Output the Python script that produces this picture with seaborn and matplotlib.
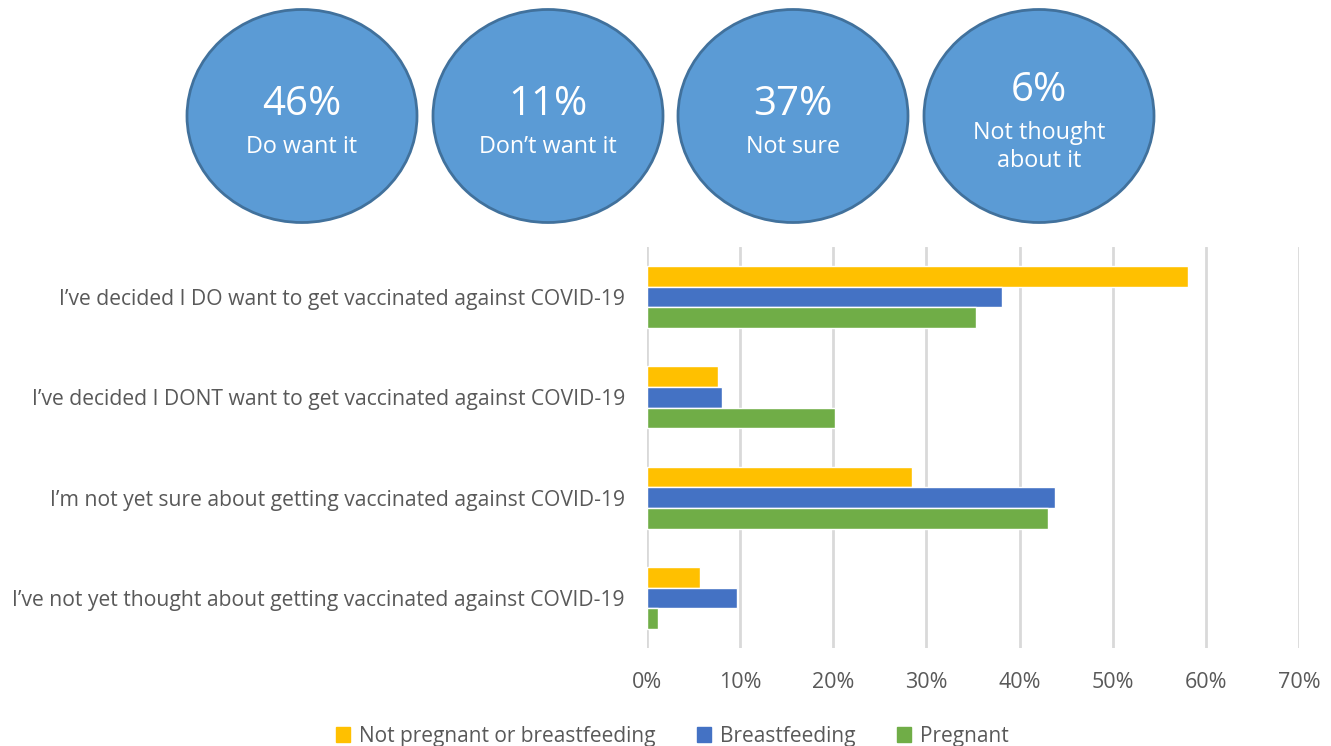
import pandas as pd
import numpy as np
import matplotlib.pyplot as plt
import seaborn as sns
from matplotlib.patches import Ellipse

# Survey answers (y categories)
questions = [
    "I’ve decided I DO want to get vaccinated against COVID-19",
    "I’ve decided I DONT want to get vaccinated against COVID-19",
    "I’m not yet sure about getting vaccinated against COVID-19",
    "I’ve not yet thought about getting vaccinated against COVID-19",
]
groups = ["Not pregnant or breastfeeding", "Breastfeeding", "Pregnant"]

# Share of respondents (%) per group
not_pregnant = [58.1, 7.6, 28.4, 5.7]
breastfeeding = [38.1, 8.1, 43.8, 9.7]
pregnant = [35.3, 20.2, 43.0, 1.2]

# Headline circles
bubble_values = ["46%", "11%", "37%", "6%"]
bubble_labels = ["Do want it", "Don’t want it", "Not sure", "Not thought\nabout it"]

colors = ["#FFC000", "#4472C4", "#70AD47"]
text_grey = "#595959"

df = pd.DataFrame({
    "question": questions * 3,
    "group": [g for g in groups for _ in questions],
    "pct": not_pregnant + breastfeeding + pregnant,
})

sns.set_style("white")
plt.rcParams['font.family'] = ['Open Sans', 'DejaVu Sans']

fig = plt.figure(figsize=(13.31, 7.46), dpi=100)

# Bar chart
ax = fig.add_axes([647 / 1331, 1 - 648 / 746, (1299 - 647) / 1331, (648 - 247) / 746])
sns.barplot(data=df, y="question", x="pct", hue="group", hue_order=groups,
            palette=colors, orient="h", width=0.62, saturation=1, ax=ax, legend=False)
ax.set_xlim(0, 70)
ax.set_xticks(np.arange(0, 71, 10))
ax.set_xticklabels([f"{v}%" for v in range(0, 71, 10)])
ax.set_xlabel("")
ax.set_ylabel("")
ax.grid(axis="x", color="#D9D9D9", linewidth=2)
ax.set_axisbelow(True)
for s in ax.spines.values():
    s.set_visible(False)
ax.tick_params(axis="both", length=0, labelcolor=text_grey)
ax.tick_params(axis="x", pad=17, labelsize=15.5)
ax.tick_params(axis="y", pad=16, labelsize=15.2)

# Legend
handles = [plt.Rectangle((0, 0), 1, 1, color=c) for c in colors]
fig.legend(handles, groups, loc="lower center", bbox_to_anchor=(0.505, -0.026), ncol=3,
           frameon=False, fontsize=15, labelcolor=text_grey, handlelength=0.7,
           handleheight=0.7, handletextpad=0.4, columnspacing=2.0)

# Headline bubbles
bax = fig.add_axes([0, 0, 1, 1])
bax.set_xlim(0, 1331)
bax.set_ylim(746, 0)
bax.axis("off")
centers = [302, 548, 793, 1039]
for cx, val, lab in zip(centers, bubble_values, bubble_labels):
    bax.add_patch(Ellipse((cx, 116), 230, 213, facecolor="#5B9BD5", edgecolor="#41719C", linewidth=2))
    if "\n" in lab:
        bax.text(cx, 91, val, ha="center", va="center", color="white", fontsize=29)
        bax.text(cx, 147, lab, ha="center", va="center", color="white", fontsize=16.8, linespacing=1.2)
    else:
        bax.text(cx, 105, val, ha="center", va="center", color="white", fontsize=29)
        bax.text(cx, 147, lab, ha="center", va="center", color="white", fontsize=16.8)

fig.savefig("out.png", dpi=100)
